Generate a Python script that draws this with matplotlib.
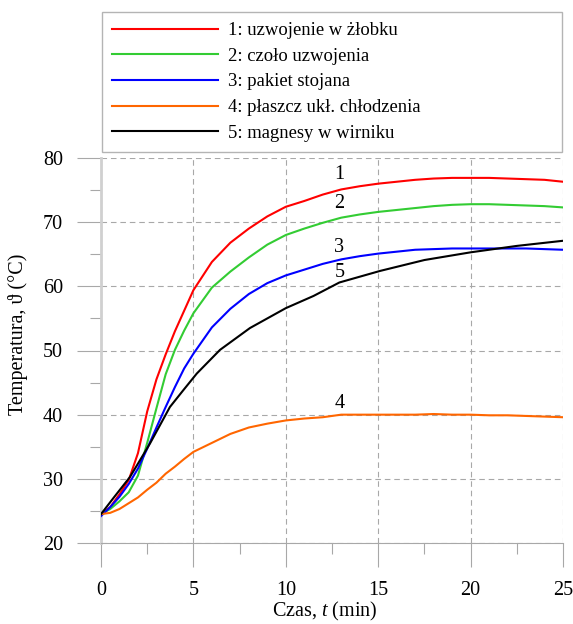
import matplotlib
matplotlib.use("Agg")
import matplotlib.pyplot as plt
from matplotlib.ticker import MultipleLocator

plt.rcParams['font.family'] = ['Liberation Serif', 'DejaVu Serif']
plt.rcParams['mathtext.fontset'] = 'custom'
plt.rcParams['mathtext.rm'] = 'Liberation Serif'
plt.rcParams['mathtext.it'] = 'Liberation Serif:italic'

# time grid (min)
t = [0, 0.5, 1, 1.5, 2, 2.5, 3, 3.5, 4, 4.5, 5, 6, 7, 8, 9, 10, 11, 12, 13,
     14, 15, 16, 17, 18, 19, 20, 21, 22, 23, 24, 25]

# 1: uzwojenie w zlobku
T1 = [24.5, 25.6, 27.6, 29.8, 34.0, 40.5, 45.5, 49.4, 53.0, 56.2, 59.4, 63.8,
      66.8, 69.0, 70.9, 72.4, 73.3, 74.3, 75.1, 75.6, 76.0, 76.3, 76.6, 76.8,
      76.9, 76.9, 76.9, 76.8, 76.7, 76.6, 76.3]
# 2: czolo uzwojenia
T2 = [24.5, 25.3, 26.5, 27.9, 30.5, 35.6, 41.0, 46.3, 50.1, 53.1, 55.8, 59.8,
      62.3, 64.5, 66.5, 68.0, 69.0, 69.9, 70.7, 71.2, 71.6, 71.9, 72.2, 72.5,
      72.7, 72.8, 72.8, 72.7, 72.6, 72.5, 72.3]
# 3: pakiet stojana
T3 = [24.2, 25.6, 27.2, 29.2, 31.6, 34.7, 38.0, 41.2, 44.3, 47.2, 49.5, 53.6,
      56.5, 58.8, 60.5, 61.7, 62.6, 63.5, 64.2, 64.7, 65.1, 65.4, 65.7, 65.8,
      65.9, 65.9, 65.9, 65.9, 65.9, 65.8, 65.7]
# 4: plaszcz ukl. chlodzenia
T4 = [24.5, 24.7, 25.3, 26.2, 27.1, 28.3, 29.4, 30.8, 31.9, 33.1, 34.2, 35.6,
      37.0, 38.0, 38.6, 39.1, 39.4, 39.6, 40.0, 40.0, 40.0, 40.0, 40.0, 40.1,
      40.0, 40.0, 39.9, 39.9, 39.8, 39.7, 39.6]
# 5: magnesy w wirniku (sampled less often)
t5 = [0, 0.67, 1.57, 2.65, 3.73, 4.45, 5.18, 6.44, 8.06, 10, 11.5, 12.9, 15.1,
      17.5, 20, 22.5, 25]
T5 = [24.5, 27.0, 30.3, 35.5, 41.2, 43.8, 46.4, 50.1, 53.5, 56.6, 58.5, 60.6,
      62.4, 64.1, 65.3, 66.3, 67.1]

labels = ['1: uzwojenie w żłobku', '2: czoło uzwojenia', '3: pakiet stojana',
          '4: płaszcz ukł. chłodzenia', '5: magnesy w wirniku']
colors = ['#ff0000', '#33cc33', '#0000ff', '#ff6600', '#000000']

# curve number labels (t, T)
tags = ['1', '2', '3', '4', '5']
tag_t = [12.9, 12.9, 12.9, 12.9, 12.9]
tag_T = [77.4, 72.9, 66.0, 41.7, 62.1]

fig = plt.figure(figsize=(5.73, 6.24), dpi=100)
ax = fig.add_axes([101 / 573, 1 - 543 / 624, 462 / 573, 385 / 624])

series = [(t, T1), (t, T2), (t, T3), (t, T4), (t5, T5)]
for (x, y), lab, c in zip(series, labels, colors):
    ax.plot(x, y, color=c, lw=1.5, label=lab, zorder=3)

for s, x, y in zip(tags, tag_t, tag_T):
    ax.text(x, y, s, fontsize=14.5, ha='center', va='center')

ax.set_xlim(0, 25)
ax.set_ylim(20, 80)
ax.xaxis.set_major_locator(MultipleLocator(5))
ax.xaxis.set_minor_locator(MultipleLocator(2.5))
ax.yaxis.set_major_locator(MultipleLocator(10))
ax.yaxis.set_minor_locator(MultipleLocator(5))

ax.grid(True, which='major', color='#a8a8a8', lw=0.8, ls=(0, (5, 3.5)))
ax.tick_params(which='major', length=17, width=0.8, color='#a8a8a8',
               labelsize=14.5, pad=10.5)
ax.tick_params(which='minor', length=8, width=0.8, color='#a8a8a8')

for side in ['top', 'right']:
    ax.spines[side].set_visible(False)
ax.spines['left'].set_color('#d0d0d0')
ax.spines['left'].set_linewidth(2)
ax.spines['bottom'].set_color('#a8a8a8')
ax.spines['bottom'].set_linewidth(0.8)
tk0 = ax.xaxis.get_major_ticks()[0]
tk0.tick1line.set_markeredgecolor('#d0d0d0')
tk0.tick1line.set_markeredgewidth(2)

fig.text(325 / 573, 1 - 623 / 624, 'Czas, $t$ (min)', fontsize=14.5,
         ha='center', va='bottom')
fig.text(18.5 / 573, 1 - 334 / 624, 'Temperatura, ϑ (°C)', fontsize=14.5,
         rotation=90, ha='center', va='center')

leg = ax.legend(loc='upper left', bbox_to_anchor=(102 / 573, 1 - 12 / 624, 460 / 573, 0),
                bbox_transform=fig.transFigure, mode='expand', fontsize=13.4,
                handlelength=5.7, handletextpad=0.54, borderpad=0.55,
                labelspacing=0.46, borderaxespad=0, fancybox=False,
                framealpha=1, edgecolor='#b4b4b4')
leg.get_frame().set_linewidth(1)

fig.savefig('out.png', dpi=100)
